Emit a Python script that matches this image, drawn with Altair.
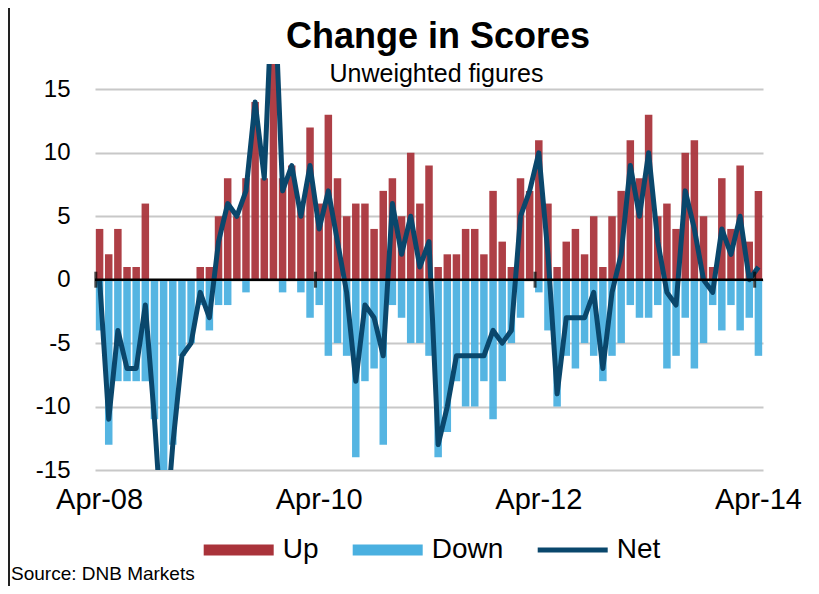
import altair as alt
import pandas as pd

# ---- data ----
MONTHS = [d.strftime("%b-%y") for d in pd.date_range("2008-04-01", "2014-04-01", freq="MS")]

UP = [4, 2, 4, 1, 1, 6, 0, 0, 0, 0, 0, 1, 1, 5, 8, 5, 8, 14, 8, 25,
      8, 9, 6, 12, 6, 13, 8, 5, 6, 6, 4, 7, 8, 5, 10, 6, 9, 1, 2, 2,
      4, 4, 2, 7, 3, 1, 8, 7, 11, 6, 1, 3, 4, 2, 5, 1, 5, 7, 11, 8,
      13, 5, 6, 4, 10, 11, 5, 1, 8, 4, 9, 3, 7]
DOWN = [-4, -13, -8, -8, -8, -8, -11, -22, -13, -6, -5, -2, -4, -2, -2, 0, -1, 0, 0, 0,
        -1, 0, -1, -3, -2, -6, -5, -6, -14, -8, -7, -13, -2, -3, -5, -5, -6, -14, -12, -8,
        -10, -10, -8, -11, -8, -5, -3, 0, -1, -4, -10, -6, -7, -5, -6, -8, -6, -5, -2, -3,
        -3, -2, -7, -6, -3, -7, -5, -2, -4, -2, -4, -3, -6]
NET = [0, -11, -4, -7, -7, -2, -11, -22, -13, -6, -5, -1, -3, 3, 6, 5, 7, 14, 8, 25,
       7, 9, 5, 9, 4, 7, 3, -1, -8, -2, -3, -6, 6, 2, 5, 1, 3, -13, -10, -6,
       -6, -6, -6, -4, -5, -4, 5, 7, 10, 2, -9, -3, -3, -3, -1, -7, -1, 2, 9, 5,
       10, 3, -1, -2, 7, 4, 0, -1, 4, 2, 5, 0, 1]

SERIES = ["Up", "Down", "Net"]
COLORS = ["#A9333A", "#4AB0E0", "#0A476C"]
TICK_MONTHS = ["Apr-08", "Apr-10", "Apr-12", "Apr-14"]
Y_TICKS = [-15, -10, -5, 0, 5, 10, 15]

TITLE = "Change in Scores"
SUBTITLE = "Unweighted figures"
SOURCE = "Source:  DNB Markets"

FONT = "Liberation Sans"
W, H = 668, 406
PAD = {"left": 87, "top": 56, "right": 48, "bottom": 116}   # total 803 x 578

up_df = pd.DataFrame({"month": MONTHS, "value": UP})
down_df = pd.DataFrame({"month": MONTHS, "value": DOWN})
net_df = pd.DataFrame({"month": MONTHS, "value": NET})

xscale = alt.Scale(domain=MONTHS, paddingInner=0.18, paddingOuter=0.09)
yscale = alt.Scale(domain=[-15, 17], nice=False, zero=False)
cscale = alt.Scale(domain=SERIES, range=COLORS)

x_axis = alt.Axis(values=TICK_MONTHS, labelAngle=0, domain=False, ticks=False, grid=False,
                  labelFont=FONT, labelFontSize=29, labelColor="black", labelPadding=15,
                  labelOverlap=False, title=None)
y_axis = alt.Axis(values=Y_TICKS, domain=False, ticks=False, grid=True,
                  gridColor="#C8C8C8", gridWidth=2, labelFont=FONT, labelFontSize=24,
                  labelColor="black", labelPadding=25, labelOverlap=False,
                  labelExpr="'' + datum.value", title=None)

x_main = alt.X("month:O", sort=MONTHS, scale=xscale, axis=x_axis, title=None)
y_main = alt.Y("value:Q", scale=yscale, axis=y_axis, stack=None, title=None)

up_bars = alt.Chart(up_df).mark_bar(clip=True, opacity=0.94, color=COLORS[0]).encode(
    x=x_main, y=y_main
)
down_bars = alt.Chart(down_df).mark_bar(clip=True, opacity=0.94, color=COLORS[1]).encode(
    x=x_main, y=y_main
)
line = alt.Chart(net_df).mark_line(
    clip=True, strokeWidth=5, strokeJoin="round", color=COLORS[2]
).encode(x=x_main, y=y_main)

zero = alt.Chart(pd.DataFrame({"value": [0]})).mark_rule(color="black", strokeWidth=2.5).encode(
    y=y_main
)

ticks = alt.Chart(pd.DataFrame({"month": TICK_MONTHS, "value": [0] * len(TICK_MONTHS)})).mark_tick(
    orient="vertical", size=16, thickness=3, color="black"
).encode(
    x=alt.X("month:O", sort=MONTHS, scale=xscale, axis=x_axis, title=None, bandPosition=0),
    y=y_main,
)

RECT = "M-1,-0.155L1,-0.155L1,0.155L-1,0.155Z"
LINE = "M-1,-0.07L1,-0.07L1,0.07L-1,0.07Z"
leg = alt.Legend(
    orient="none", legendX=108.7, legendY=451, direction="horizontal", title=None,
    labelFont=FONT, labelFontSize=28, labelColor="black", labelOffset=9,
    columnPadding=34, symbolSize=4900, symbolStrokeWidth=0, padding=0,
    symbolOpacity=1, labelLimit=0,
)
legend_layer = alt.Chart(pd.DataFrame({"series": SERIES})).transform_filter("false").mark_point(
    filled=True
).encode(
    color=alt.Color("series:N", scale=cscale, legend=leg),
    shape=alt.Shape("series:N", scale=alt.Scale(domain=SERIES, range=[RECT, RECT, LINE]), legend=leg),
)

title_t = alt.Chart(pd.DataFrame({"t": [TITLE]})).mark_text(
    font=FONT, fontSize=36, fontWeight="bold", align="center", baseline="alphabetic", color="black"
).encode(x=alt.value(343), y=alt.value(-16), text="t:N")

sub_t = alt.Chart(pd.DataFrame({"t": [SUBTITLE]})).mark_text(
    font=FONT, fontSize=25, align="center", baseline="alphabetic", color="black"
).encode(x=alt.value(341.5), y=alt.value(18), text="t:N")

src_t = alt.Chart(pd.DataFrame({"t": [SOURCE]})).mark_text(
    font=FONT, fontSize=19, align="left", baseline="alphabetic", color="black"
).encode(x=alt.value(-84), y=alt.value(516), text="t:N")

border = alt.Chart(pd.DataFrame({"a": [0]})).mark_rule(color="#222222", strokeWidth=2).encode(
    x=alt.value(-86), y=alt.value(-56), y2=alt.value(522)
)

chart = alt.layer(
    up_bars, down_bars, line, zero, ticks, legend_layer, title_t, sub_t, src_t, border
).properties(
    width=W, height=H,
    autosize=alt.AutoSizeParams(type="none"),
    padding=PAD,
    background="white",
).configure_view(stroke=None)

chart.save("out.html", embed_options={"renderer": "svg", "actions": False})
